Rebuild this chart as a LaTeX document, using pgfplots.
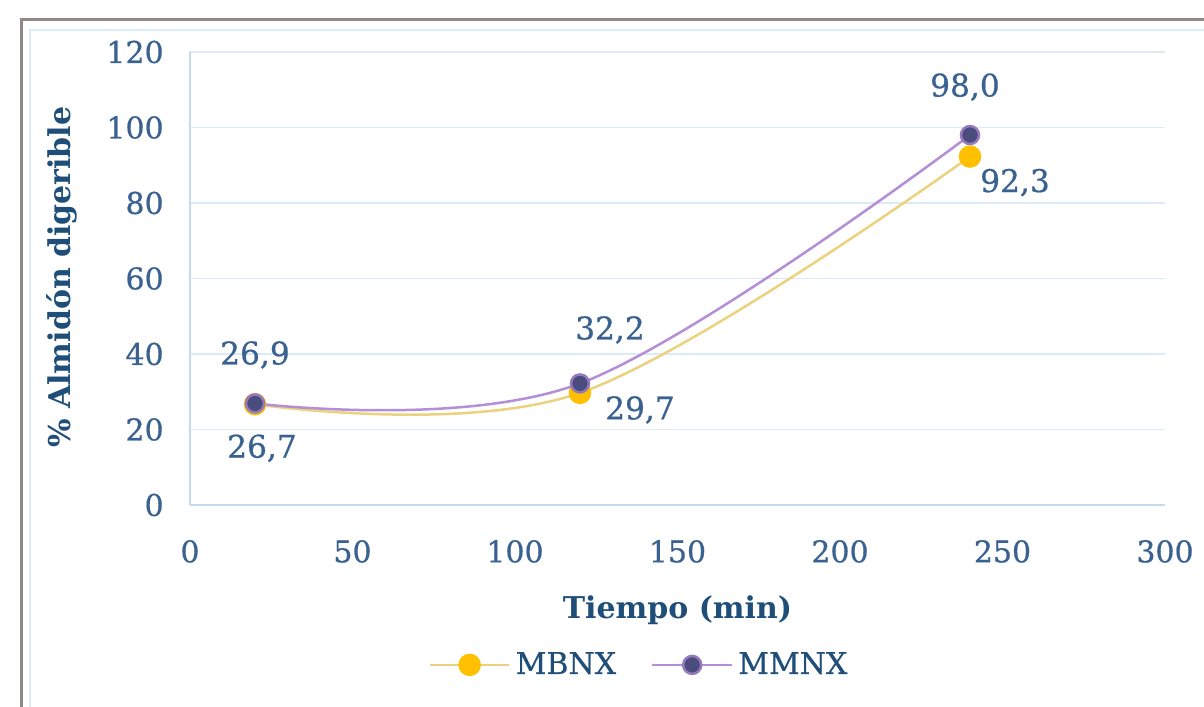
\documentclass[border=0pt]{standalone}
\usepackage{pgfplots}
\pgfplotsset{compat=1.18}
\usepackage{pgfplotstable}
\usepackage{fontspec}
\setmainfont{DejaVu Serif}
\newfontfamily\semib{DejaVu Serif}[FakeBold=0.6]

\definecolor{tickblue}{HTML}{3A6291}
\definecolor{titleblue}{HTML}{1F4E79}
\definecolor{gridblue}{HTML}{DCE9F6}
\definecolor{axisblue}{HTML}{C5DAEE}
\definecolor{mbnxfill}{HTML}{FFC000}
\definecolor{mbnxline}{HTML}{EBD27E}
\definecolor{mmnxline}{HTML}{B48ED6}
\definecolor{mmnxfill}{HTML}{4A4C7E}
\definecolor{framegray}{HTML}{8F8A88}
\definecolor{innerblue}{HTML}{DDEBF7}

% columns: time, value, printed label, label offsets (pt)
\pgfplotstableread{
x   y    lbl    dx    dy
20  26.7 {26,7} 2.8   -17.6
120 29.7 {29,7} 24    -6.8
240 92.3 {92,3} 18    -10.4
}\mbnx

\pgfplotstableread{
x   y    lbl    dx    dy
20  26.9 {26,9} 0     19.4
120 32.2 {32,2} 12    21.4
240 98.0 {98,0} -2    19.2
}\mmnx

\begin{document}
\begin{tikzpicture}
\useasboundingbox (-76pt,-80.8pt) rectangle (405.6pt,202pt);
\fill[white] (-76pt,-80.8pt) rectangle (405.6pt,202pt);
\draw[framegray, line width=1.2pt] (-67.2pt,-120pt) rectangle (440pt,194pt);
\draw[innerblue, line width=0.5pt] (-64pt,-120pt) rectangle (440pt,190pt);
\begin{axis}[
  at={(0,0)}, anchor=south west,
  width=390pt, height=181.2pt, scale only axis,
  xmin=0, xmax=300, ymin=0, ymax=120,
  xtick={0,50,...,300}, ytick={0,20,...,120},
  axis x line*=bottom, axis y line*=left,
  axis line style={draw=axisblue, line width=0.6pt, -},
  ymajorgrids, grid style={draw=gridblue, line width=0.6pt},
  major tick length=0pt,
  tick label style={font=\semib\fontsize{12}{14}\selectfont, text=tickblue},
  /pgf/number format/assume math mode=true,
  yticklabel style={xshift=-7pt},
  xticklabel style={yshift=-10.5pt},
  xlabel={Tiempo (min)},
  ylabel={\% Almidón digerible},
  label style={font=\bfseries\fontsize{12}{14}\selectfont, text=titleblue},
  xlabel style={at={(axis description cs:0.5,-0.232)}, anchor=center},
  ylabel style={at={(axis description cs:-0.131,0.503)}, anchor=center},
  legend columns=2,
  legend style={at={(axis description cs:0.462,-0.353)}, anchor=center,
    draw=none, fill=none, font=\semib\fontsize{12}{14}\selectfont, text=titleblue,
    /tikz/every even column/.append style={column sep=12pt}},
  legend image code/.code={\draw[mark repeat=2,mark phase=2]
    plot coordinates {(0cm,0cm) (0.56cm,0cm) (1.12cm,0cm)};},
  nodes near coords,
  point meta=explicit symbolic,
  visualization depends on={\thisrow{dx} \as \ldx},
  visualization depends on={\thisrow{dy} \as \ldy},
  every node near coord/.append style={anchor=center, xshift=\ldx pt,
    yshift=\ldy pt, font=\semib\fontsize{12.5}{14}\selectfont, text=tickblue},
]
\addplot[smooth, tension=0.6, color=mbnxline, line width=1pt, mark=*, mark size=4pt,
  mark options={fill=mbnxfill, draw=mbnxfill}]
  table[x=x, y=y, meta=lbl] {\mbnx};
\addlegendentry{MBNX}
\addplot[smooth, tension=0.6, color=mmnxline, line width=1pt, mark=*, mark size=3.6pt,
  mark options={fill=mmnxfill, draw=mmnxline!70!mmnxfill}]
  table[x=x, y=y, meta=lbl] {\mmnx};
\addlegendentry{MMNX}
\end{axis}
\end{tikzpicture}
\end{document}
